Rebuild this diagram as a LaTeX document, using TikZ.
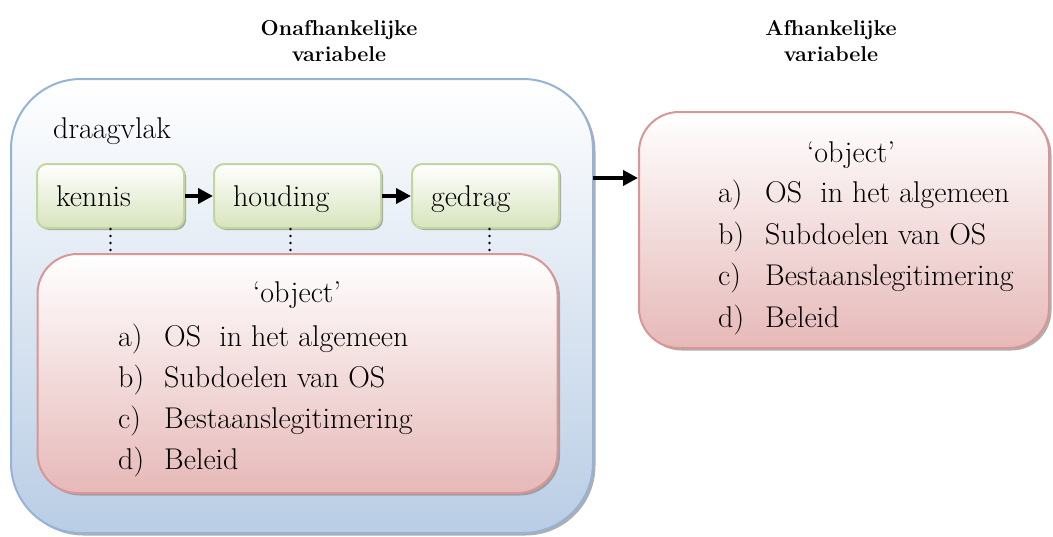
\documentclass[tikz,border=0pt]{standalone}
\usepackage{xcolor}
\usepackage{tikz}
\usetikzlibrary{shapes}
\usetikzlibrary{arrows.meta}
\usetikzlibrary{shadows}
\definecolor{frameline}{HTML}{95B3D7}
\definecolor{framefill}{HTML}{B9CDE5}
\definecolor{phaseline}{HTML}{C3D69B}
\definecolor{phasefill}{HTML}{D7E4BD}
\definecolor{objline}{HTML}{D99694}
\definecolor{objfill}{HTML}{E6B9B8}
\definecolor{shadowgray}{HTML}{8C8C8C}
\newcommand{\diagfont}{\fontsize{30}{36}\selectfont}
\newcommand{\headfont}{\fontsize{21.5}{26}\selectfont\bfseries}
\tikzset{
  frame node/.style={draw=frameline,line width=2pt,rounded corners=70pt,
    top color=white,bottom color=framefill,inner sep=0pt,
    drop shadow={shadow xshift=2.5pt,shadow yshift=-2.5pt,fill=shadowgray,opacity=0.7}},
  phase node/.style={draw=phaseline,line width=2pt,rounded corners=10pt,
    top color=white,bottom color=phasefill,minimum height=64pt,inner xsep=19pt,
    inner ysep=0pt,text height=22pt,text depth=2pt,align=left,font=\diagfont,
    drop shadow={shadow xshift=2pt,shadow yshift=-2pt,fill=shadowgray,opacity=0.7}},
  object node/.style={draw=objline,line width=2pt,rounded corners=40pt,
    top color=white,bottom color=objfill,inner sep=0pt,
    drop shadow={shadow xshift=2.5pt,shadow yshift=-2.5pt,fill=shadowgray,opacity=0.7}},
  item text/.style={anchor=base west,inner sep=0pt,font=\diagfont},
  head text/.style={align=center,font=\headfont},
  flow arrow/.style={-{Triangle[length=15pt,width=15pt]},line width=4.5pt},
  link line/.style={line width=2.8pt,dash pattern=on 0pt off 7pt,line cap=round}
}

\begin{document}
\begin{tikzpicture}[x=1pt,y=-1pt]
  \useasboundingbox (0,0) rectangle (1053,536);
  % headings
  \node [head text] (indep) at (339,41) {Onafhankelijke\\variabele};
  \node [head text] (dep) at (831,41) {Afhankelijke\\variabele};
  % independent variable
  \node [frame node,minimum width=582pt,minimum height=454pt] (frame) at (302,306) {};
  \node [item text] (draagvlak) at (53,138) {draagvlak};
  \node [phase node,text width=109pt] (kennis) at (110.5,196) {kennis};
  \node [phase node,text width=129pt] (houding) at (297.5,196) {houding};
  \node [phase node,text width=109pt] (gedrag) at (485.5,196) {gedrag};
  \node [object node,minimum width=520pt,minimum height=239pt] (inner) at (297.5,373.5) {};
  \node [item text,anchor=base] (inner title) at (297,302) {`object'};
  \foreach \lab/\txt [count=\i] in {a)/OS\ \ in het algemeen,b)/Subdoelen van OS,c)/Bestaanslegitimering,d)/Beleid}{
    \node [item text] (inner lab\i) at (118,{305+41*\i}) {\lab};
    \node [item text] (inner txt\i) at (164,{305+41*\i}) {\txt};
  }
  \draw [flow arrow] (kennis) -- (houding);
  \draw [flow arrow] (houding) -- (gedrag);
  \draw [link line] (kennis.south) -- (kennis.south |- inner.north);
  \draw [link line] ([xshift=-7pt]houding.south) -- ([xshift=-7pt]houding.south |- inner.north);
  \draw [link line] ([xshift=4pt]gedrag.south) -- ([xshift=4pt]gedrag.south |- inner.north);
  % dependent variable
  \node [object node,minimum width=410pt,minimum height=236pt] (outer) at (844,230) {};
  \node [item text,anchor=base] (outer title) at (851,162) {`object'};
  \foreach \lab/\txt [count=\i] in {a)/OS\ \ in het algemeen,b)/Subdoelen van OS,c)/Bestaanslegitimering,d)/Beleid}{
    \node [item text] (outer lab\i) at (718,{161+41.5*\i}) {\lab};
    \node [item text] (outer txt\i) at (765,{161+41.5*\i}) {\txt};
  }
  \coordinate (frame out) at (593,178);
  \draw [flow arrow] (frame out) -- (frame out -| outer.west);
\end{tikzpicture}
\end{document}
